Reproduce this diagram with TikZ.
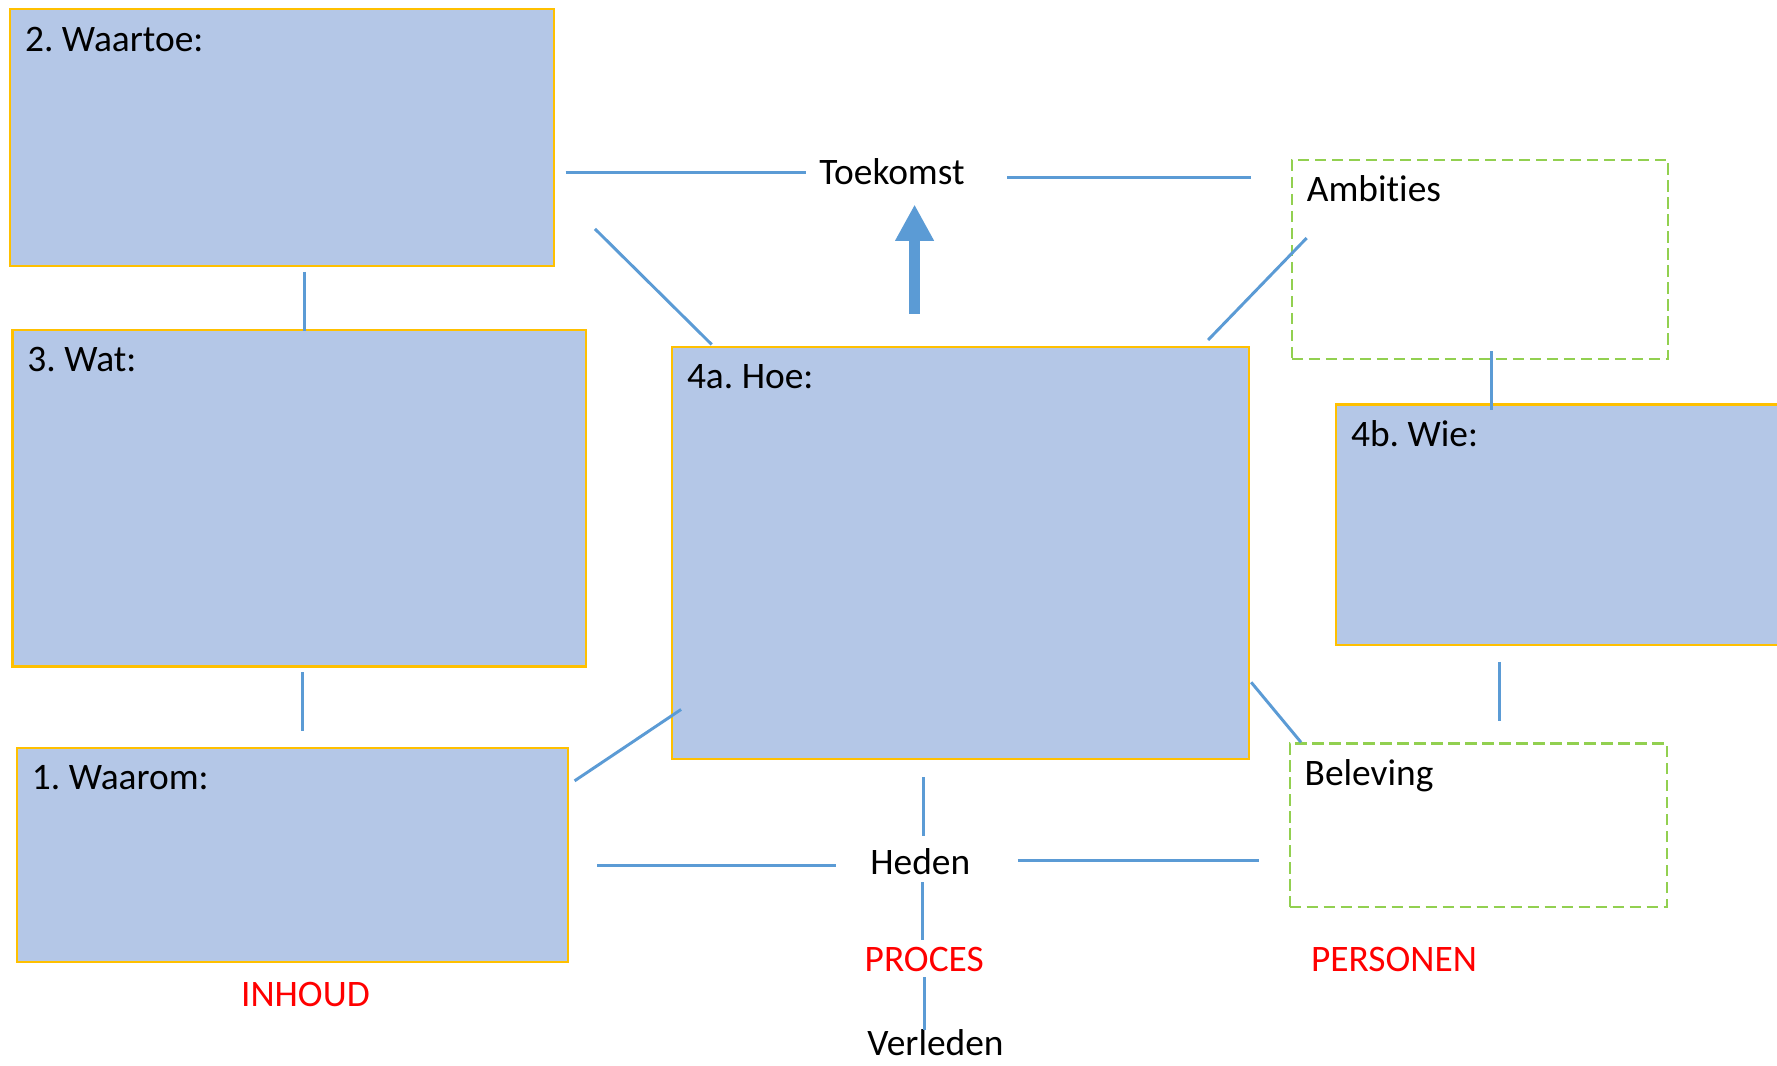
\documentclass[tikz,border=0pt]{standalone}
\usepackage{fontspec}
\setmainfont{Carlito}[Ligatures={NoCommon}]
\usetikzlibrary{arrows.meta}
\definecolor{boxfill}{HTML}{B4C7E7}
\definecolor{boxline}{HTML}{FFC000}
\definecolor{connblue}{HTML}{5B9BD5}
\definecolor{dashgreen}{HTML}{92D050}
\frenchspacing
\begin{document}
\begin{tikzpicture}[x=1pt,y=-1pt,
  every node/.style={font=\fontsize{33}{40}\selectfont},
  bluebox/.style={draw=boxline, line width=2pt, fill=boxfill, anchor=north west, inner sep=0pt},
  greenbox/.style={draw=dashgreen, line width=2pt, dash pattern=on 10pt off 5pt, anchor=north west, inner sep=0pt},
  boxlabel/.style={anchor=base west, inner sep=0pt, xshift=14pt, yshift=-38pt, font=\fontsize{33}{40}\selectfont},
  txt/.style={anchor=base, inner sep=0pt},
  redtxt/.style={anchor=base, inner sep=0pt, text=red},
  conn/.style={draw=connblue, line width=2.6pt},
  bigarrow/.style={draw=connblue, line width=9pt, -{Triangle[width=32pt,length=32pt]}}
]
\useasboundingbox[fill=white] (0,0) rectangle (1568,940);

\node[bluebox, minimum width=480pt, minimum height=227pt,
  label={[boxlabel]north west:2. Waartoe:}] (waartoe) at (8,7) {};
\node[bluebox, minimum width=506pt, minimum height=297pt,
  label={[boxlabel]north west:3. Wat:}] (wat) at (10,290) {};
\node[bluebox, minimum width=486pt, minimum height=189pt,
  label={[boxlabel]north west:1. Waarom:}] (waarom) at (14,659) {};
\node[bluebox, minimum width=509pt, minimum height=364pt,
  label={[boxlabel]north west:4a. Hoe:}] (hoe) at (592,305) {};
\node[bluebox, minimum width=420pt, minimum height=212pt,
  label={[boxlabel]north west:4b. Wie:}] (wie) at (1178,356) {};
\node[greenbox, minimum width=332pt, minimum height=176pt,
  label={[boxlabel]north west:Ambities}] (amb) at (1139,140) {};
\node[greenbox, minimum width=333pt, minimum height=144pt,
  label={[boxlabel]north west:Beleving}] (bel) at (1137,655) {};

\node[txt] (toek) at (787,163) {Toekomst};
\node[txt] (heden) at (812,772) {Heden};
\node[redtxt] (proces) at (815.5,857) {PROCES};
\node[txt] (verleden) at (825.5,931) {Verleden};
\node[redtxt] (inhoud) at (269.5,888) {INHOUD};
\node[redtxt] (personen) at (1230,857) {PERSONEN};

% end points taken from the nodes
\coordinate (c1a) at ([shift={(9,30.5)}]waartoe.east);
\coordinate (c1b) at ([shift={(-11.5,0)}]toek.west);
\coordinate (c2b) at ([shift={(-35,17)}]amb.north west);
\coordinate (c2a) at ([shift={(37.5,0)}]toek.east);
\coordinate (c5a) at ([shift={(20,4)}]waartoe.south);
\coordinate (c5b) at ([shift={(0,2)}]wat.north);
\coordinate (c6a) at ([shift={(3,4)}]wat.south);
\coordinate (c6b) at ([shift={(0,-14)}]waarom.north);
\coordinate (c7b) at ([shift={(138,6)}]wie.north west);
\coordinate (c7a) at ([shift={(0,-8)}]amb.south);
\coordinate (c8a) at ([shift={(145,14)}]wie.south west);
\coordinate (c8b) at ([shift={(0,-19)}]bel.north);
\coordinate (c11a) at ([shift={(-32.5,15)}]hoe.south);
\coordinate (c11b) at ([shift={(0,-11)}]heden.north);
\coordinate (c12a) at ([shift={(25,9.5)}]waarom.east);
\coordinate (c12b) at ([shift={(-30,0)}]heden.west);
\coordinate (c13b) at ([shift={(-26,31)}]bel.west);
\coordinate (c13a) at ([shift={(42,0)}]heden.east);
\coordinate (c14a) at ([shift={(2,6)}]heden.south);
\coordinate (c14b) at ([shift={(0,-6)}]proces.north);
\coordinate (c15a) at ([shift={(0.5,5)}]proces.south);
\coordinate (c15b) at ([shift={(0,1)}]verleden.north);
\coordinate (c16a) at ([shift={(-40.5,-28)}]hoe.north);
\coordinate (c16b) at ([shift={(0,17)}]toek.south);

% connectors
\draw[conn] (c1a) -- (c1b |- c1a);
\draw[conn] (c2a |- c2b) -- (c2b);
\draw[conn] ([shift={(35,-34)}]waartoe.south east) -- ([shift={(36,-1)}]hoe.north west);
\draw[conn] ([shift={(14,70)}]amb.north west) -- ([shift={(-37,-5)}]hoe.north east);
\draw[conn] (c5a) -- (c5a |- c5b);
\draw[conn] (c6a) -- (c6a |- c6b);
\draw[conn] (c7b |- c7a) -- (c7b);
\draw[conn] (c8a) -- (c8a |- c8b);
\draw[conn] ([shift={(5,30)}]waarom.north east) -- ([shift={(9,-45)}]hoe.south west);
\draw[conn] ([shift={(1,-69)}]hoe.south east) -- ([shift={(11,0)}]bel.north west);
\draw[conn] (c11a) -- (c11a |- c11b);
\draw[conn] (c12a) -- (c12b |- c12a);
\draw[conn] (c13a |- c13b) -- (c13b);
\draw[conn] (c14a) -- (c14a |- c14b);
\draw[conn] (c15a) -- (c15a |- c15b);
\draw[bigarrow] (c16a) -- (c16a |- c16b);
\end{tikzpicture}
\end{document}
